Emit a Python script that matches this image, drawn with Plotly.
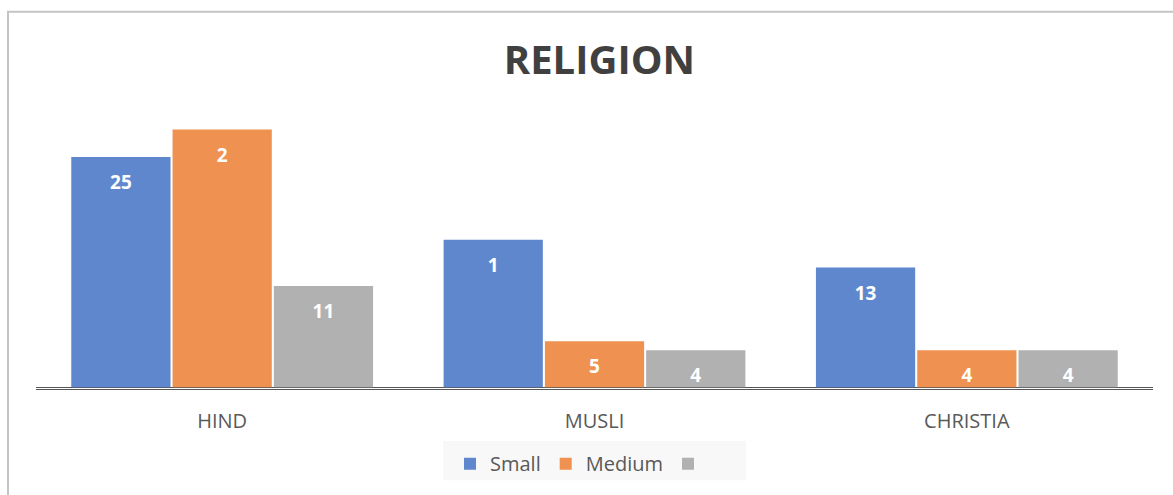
import plotly.graph_objects as go

categories = ["HIND", "MUSLI", "CHRISTIA"]
series_names = ["Small", "Medium", ""]
small = [25, 16, 13]
medium = [28, 5, 4]
large = [11, 4, 4]
small_labels = ["25", "1", "13"]
medium_labels = ["2", "5", "4"]
large_labels = ["11", "4", "4"]

colors = ["#5F87CD", "#EF9150", "#B1B1B1"]
values = [small, medium, large]
labels = [small_labels, medium_labels, large_labels]

fig = go.Figure()
for i in range(3):
    fig.add_trace(go.Bar(
        x=categories, y=values[i], name=series_names[i],
        marker=dict(color=colors[i], line=dict(width=0)),
        offsetgroup=str(i), alignmentgroup="a", hoverinfo="skip",
    ))
for i in range(3):
    fig.add_trace(go.Scatter(
        x=categories, y=values[i], mode="markers+text",
        text=labels[i], textposition="bottom center",
        textfont=dict(family="Open Sans", size=19, color="white", weight="bold"),
        marker=dict(size=27, opacity=0),
        offsetgroup=str(i), alignmentgroup="a",
        showlegend=False, hoverinfo="skip", cliponaxis=False,
    ))

T, B = 111, 101
PH = 495 - T - B
PB = 495 - B
L, R = 36, 20
PW = 1173 - L - R

fig.update_layout(
    width=1173, height=495,
    margin=dict(l=L, r=R, t=T, b=B),
    paper_bgcolor="white", plot_bgcolor="white",
    barmode="group", bargap=0.184, bargroupgap=0.02,
    scattermode="group", scattergap=0.184,
    title=dict(text="<b>RELIGION</b>", x=0.511, xref="container", y=1 - 60 / 495,
               yref="container", xanchor="center", yanchor="middle",
               font=dict(family="Open Sans", size=40, color="#404040")),
    xaxis=dict(showgrid=False, showline=True, linecolor="#555555", linewidth=1,
               tickfont=dict(family="Open Sans", size=20, color="#595959"),
               ticks="", ticklabelstandoff=14, fixedrange=True),
    yaxis=dict(range=[-0.2, 30], showgrid=False, showticklabels=False,
               zeroline=True, zerolinecolor="#555555", zerolinewidth=1,
               showline=False, fixedrange=True),
    legend=dict(orientation="h", x=(450 - L) / PW, xanchor="left",
                y=-(470 - PB) / PH, yanchor="middle",
                bgcolor="rgba(0,0,0,0)", font=dict(family="Open Sans", size=20, color="#595959"),
                itemwidth=30, traceorder="normal"),
    showlegend=True,
    shapes=[
        dict(type="rect", xref="paper", yref="paper",
             x0=(8 - L) / PW, x1=(1400 - L) / PW,
             y0=-(700 - PB) / PH, y1=(PB - 10) / PH,
             line=dict(color="#C4C4C4", width=2), fillcolor="rgba(0,0,0,0)",
             layer="below"),
        dict(type="rect", xref="paper", yref="paper",
             x0=(443 - L) / PW, x1=(746 - L) / PW,
             y0=-(487 - PB) / PH, y1=-(447 - PB) / PH,
             line=dict(width=0), fillcolor="#F8F8F8", layer="below"),
    ],
)

fig.write_html("out.html")
